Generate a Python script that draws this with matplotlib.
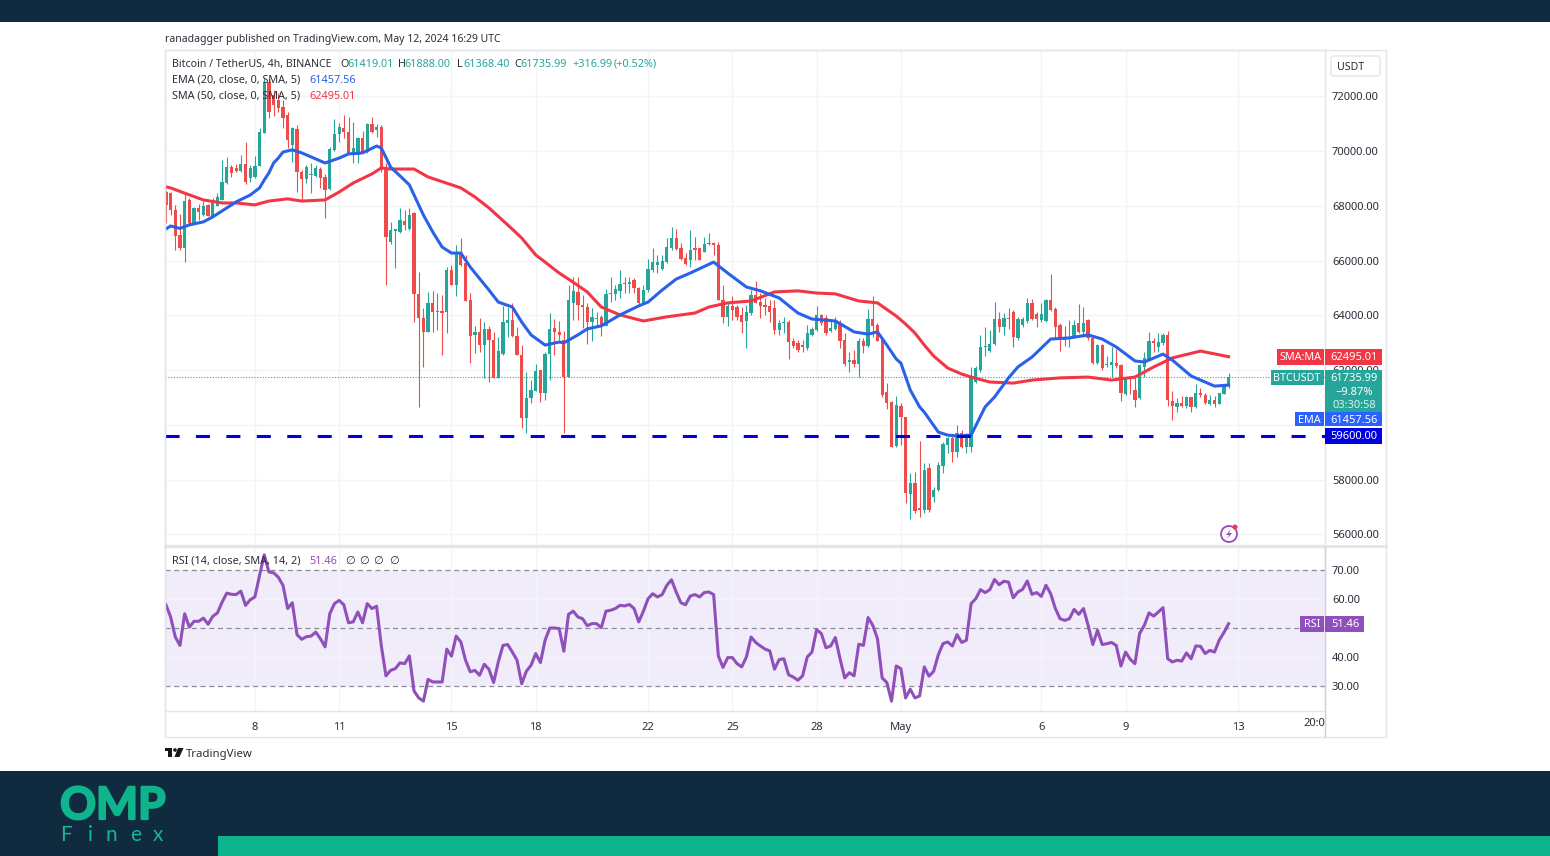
import matplotlib
matplotlib.use('Agg')
import matplotlib.pyplot as plt
import matplotlib.patheffects as pe
from matplotlib.patches import Rectangle, Circle, Polygon, FancyBboxPatch

opens = [68510,68470,67850,66940,66470,68220,67380,67930,67670,68040,67630,68000,68220,68840,69420,69390,69280,69530,69020,69060,
69460,70670,72530,72050,71870,71620,71320,70230,70810,69240,68990,69130,69100,69350,69060,68620,70050,70630,70850,70700,
69970,69860,70480,69970,71000,70780,70890,69390,66680,67090,67050,67450,67160,67740,64790,63910,63400,64460,64130,64160,
64130,65660,65110,66280,65920,64570,63290,63400,62920,63510,63100,61720,62590,63730,63840,63250,62560,60260,60990,61240,
62010,61170,62590,63540,63400,63100,61750,64460,64860,64380,64310,63760,63870,63950,63620,64790,64790,64900,65190,65150,
65300,65000,64460,64930,65660,65850,65700,65950,66470,66830,66470,66100,66030,66470,66470,66320,66610,66650,66580,64570,
63950,64350,64310,64020,63800,64090,64750,64490,64380,64350,64270,63470,63730,63760,63070,63000,62920,62810,63290,63470,
64020,63910,63430,63510,63730,63100,62300,62370,62230,63070,62890,63870,63650,63100,61210,60840,59230,60690,60290,57480,
57880,56970,56890,58430,57370,57630,58500,59270,59520,59010,59710,59200,59200,61570,62010,62850,62700,62960,63870,63580,
63910,64130,63180,63650,63800,64460,64050,63840,63800,64570,64240,63650,63210,63140,63210,63730,63400,63840,63180,62260,
62920,62190,62190,62260,62190,61130,61750,61280,60990,62120,62410,63070,62850,63000,63290,60880,60660,60800,60690,61020,
60660,61170,61100,60770,60910,60770,61130,61419]
closes = [68040,67850,66900,66470,68180,67380,67930,67780,68000,67630,68220,68330,68880,69420,69210,69280,69530,68880,69390,69460,
70700,72490,71430,71690,71580,71210,70410,70850,69240,68990,69420,69170,69390,69020,68590,70080,70630,70890,70700,69940,
70120,70480,69940,71000,70700,70890,69310,66870,67120,67160,67490,67310,67670,64790,63910,63400,64460,64130,64160,64090,
65660,65110,66280,65850,64530,63250,63400,62920,63510,63100,61720,62700,63760,63840,63250,62560,60260,60990,61280,61970,
61170,62590,63510,63400,63290,61750,64570,64900,64380,64310,63760,63950,63910,63620,64790,64820,64970,65150,65150,65220,
65000,64460,64930,65700,65950,65950,65990,66500,66830,66430,66060,65880,66390,66390,66030,66610,66650,66580,64570,63950,
64350,64200,63950,63760,64130,64750,64460,64350,64310,64130,63470,63730,63760,63030,62890,62740,62850,63360,63510,64020,
63730,63360,63540,63760,63070,62230,62370,62230,63070,62890,63870,63620,63070,61100,60800,59200,60730,60290,57520,57880,
56860,56890,58360,56890,57630,58540,59310,59520,59010,59710,59200,59520,61750,62080,62850,62890,62960,63870,63580,63910,
63870,63210,63870,63870,64460,63870,63870,64050,64570,64200,63580,63180,63100,63210,63650,63400,63730,63180,62260,62920,
62080,62230,62300,62160,61170,61750,61680,60910,62190,62450,63070,63000,63030,63290,60910,60690,60800,60690,61020,60660,
61170,61100,60800,60910,60770,61170,61420,61736]
highs = [68590,68510,68040,67710,68440,68290,67960,68070,68180,68070,68290,68470,69680,69790,69500,69530,69860,70340,69500,69830,
70850,72680,72680,72240,72130,71870,71430,70890,70960,69310,69500,69570,69500,69420,69170,70150,71180,71030,71320,71250,
71070,70520,70740,71030,71250,71000,70960,69570,67420,67160,67930,67850,67930,67780,65590,64270,64860,64900,64820,64750,
65770,65850,66580,66830,66210,64820,63620,63910,63760,63620,63400,63210,64350,64310,64460,63580,62920,61940,61640,62230,
62010,62670,64090,63870,63800,63430,65110,65410,65410,64750,64460,64270,64130,64020,64970,65410,65110,65660,65410,65410,
65370,65040,65110,66060,66470,66210,66210,66830,67230,67160,66650,66280,67120,66870,66470,66870,67010,66680,66680,65110,
64460,64710,64380,64310,64380,64930,65260,64820,64640,64570,64570,63840,63950,63840,63180,63100,63100,63650,63580,64350,
64050,64020,63840,63950,63840,63360,62670,62740,63180,63180,64240,64710,63730,63180,61530,60880,61060,60800,60290,58250,
58280,59420,58610,58610,57730,58650,59380,59560,59630,60000,59820,59710,62120,62160,63290,63580,63470,64490,64130,64090,
64270,64200,63950,63950,64640,64600,64130,64460,64600,65520,64310,63730,63620,63840,63840,64420,64310,63870,63210,62960,
62960,62520,62850,62780,62230,61750,61750,61750,62230,62670,63400,63180,63360,63360,63430,61240,60990,61060,61060,61020,
61500,61350,61170,61100,61060,61170,61460,61888]
lows = [67380,67670,66390,66390,65950,67310,67340,67490,67630,67630,67630,68000,68220,68800,69060,69240,69240,68800,68880,69020,
69460,70670,71210,71290,71430,70850,70120,69610,68510,68220,68840,68470,69060,68660,67560,68590,70010,70340,70480,69940,
69570,69570,69940,69940,70670,70520,69240,65110,66610,65740,67010,67120,67120,63760,60660,62120,63400,63400,63470,62560,
63360,65110,64710,65810,64530,62260,62630,62670,61720,61570,61720,61720,62560,63210,63210,62560,59890,59710,60800,61240,
60840,60910,61640,62560,63100,59710,61750,63840,63840,63540,62960,63070,63580,63250,63620,64490,64570,64640,64820,64820,
64820,64380,64460,64860,65590,65550,65660,65920,66390,66390,66030,65850,65770,66030,66030,66320,66580,66210,64570,63730,
63620,63840,63840,63360,62810,64020,64460,63910,64020,63760,63320,63290,63360,62410,62810,62670,62670,62740,63250,63430,
63650,63290,63400,63470,62810,62160,61940,62120,61750,62630,62850,63210,63070,61020,60580,59200,59200,59270,57150,56570,
56780,56640,56780,56820,57190,57590,58250,58980,58650,58830,59160,58980,59010,61530,61940,62520,62670,62920,63400,63290,
63510,62850,63100,63580,63730,63840,63580,63760,63760,64160,63180,62700,62890,62850,63180,63360,63210,63100,62230,62230,
62010,62120,61750,62080,60880,61100,61130,60660,60950,61750,62370,62670,62670,62920,60690,60180,60470,60660,60620,60470,
60620,61020,60770,60730,60660,60770,61130,61368]
rsi = [58.0,53.8,46.9,44.0,54.9,50.3,52.3,52.3,53.4,51.3,54.0,55.2,58.9,62.0,61.6,61.5,62.7,57.8,59.7,60.7,
68.1,75.2,69.3,69.0,67.5,64.7,56.7,58.7,47.7,46.1,47.0,47.2,48.6,46.3,43.5,54.9,58.4,59.5,58.0,51.8,
52.1,55.5,51.8,58.4,56.7,57.5,44.0,33.5,35.4,36.0,38.0,37.7,40.4,28.3,25.9,24.8,32.3,31.4,31.4,31.4,
42.7,40.3,47.2,45.2,38.9,34.9,35.4,33.7,37.5,35.8,31.2,38.3,44.0,44.3,41.7,38.9,30.8,35.1,37.2,41.2,
38.1,45.8,50.0,50.0,49.8,42.0,54.7,55.8,53.8,53.2,50.8,51.5,51.5,50.1,55.8,56.1,56.7,57.8,57.6,58.1,
56.7,52.1,55.8,60.1,61.8,60.7,61.5,64.7,66.6,62.4,58.7,58.0,61.0,61.5,60.7,62.2,62.4,61.5,40.4,36.4,
39.8,39.8,37.7,36.6,40.0,46.9,45.0,43.8,42.7,42.1,35.8,39.1,39.4,33.9,33.1,32.0,33.5,40.0,41.7,49.4,
48.1,43.2,43.8,46.7,39.4,32.8,34.6,33.5,44.4,44.0,53.6,50.9,46.3,32.8,31.2,24.8,36.9,36.0,25.9,28.9,
25.9,26.6,36.6,33.4,35.1,40.8,44.6,45.2,43.8,47.7,45.0,45.8,58.4,60.1,63.2,62.2,63.2,66.7,64.9,66.1,
65.8,60.4,62.4,63.3,66.2,61.6,62.2,60.9,64.7,61.8,56.7,53.2,52.6,53.2,56.4,54.7,56.7,50.9,44.3,49.2,
44.3,44.6,45.0,44.0,36.9,41.7,39.2,37.7,48.1,50.9,55.2,54.1,55.5,57.0,39.4,38.3,38.9,38.6,41.4,39.4,
43.8,43.7,41.2,42.3,41.7,45.8,48.4,51.46]
# candle number, 0 = Apr 8 00:00, six 4h candles a day
ema_x = [-19,-18,-16,-14,-11,-9,-6,-4,-1,1,2,3,4,5,6,7,8,10,13,15,18,20,23,26,27,29,31,33,36,38,40,42,44,46,50,52,55,57,59,62,65,66,69,71,74,
78,82,84,87,90,93,98,101,105,108,112,116,119,124,128,131,133,135,137,138,140,142,143,146,148,150,153,156,158,161,163,166,170,174,178,181,184,188,190,194,196,200,205,208]
ema = [67160,67270,67180,67310,67420,67600,67930,68150,68400,68660,68950,69210,69570,69750,69970,70010,70050,69940,69720,69570,69750,69900,69940,
70190,70120,69420,69100,68770,67670,67050,66500,66280,66280,65770,64930,64490,64310,63760,63290,62920,63030,63000,63290,63510,63620,
64020,64350,64490,64930,65330,65550,65950,65550,65040,64900,64640,64090,63870,63800,63400,63320,63400,62920,62410,62260,61280,60660,
60470,59740,59630,59600,59630,60660,61020,61720,62120,62480,63140,63180,63290,63140,62850,62340,62300,62590,62370,61790,61420,61457.56]
sma_x = [-19,-18,-15,-11,-7,-4,0,3,7,10,15,18,21,25,27,29,34,37,44,47,50,54,57,60,62,65,67,71,74,78,83,88,94,97,101,106,111,116,120,124,129,133,
137,139,141,143,145,148,151,153,157,162,166,172,178,183,188,192,196,202,208]
sma = [68700,68660,68470,68220,68110,68110,68040,68180,68260,68180,68220,68510,68840,69170,69390,69350,69350,69060,68660,68330,
67930,67310,66830,66210,65950,65550,65330,64860,64310,64020,63800,63950,64090,64310,64460,64530,64860,64900,64820,64790,64530,64460,
63980,63690,63360,62920,62520,62080,61860,61750,61570,61530,61640,61720,61750,61640,61750,62120,62450,62700,62495.01]
price_ticks = [56000,58000,60000,62000,64000,66000,68000,70000,72000]
price_hidden = [60000]  # sits under the EMA and 59600 tags in the reference
rsi_ticks = [30,40,60,70]
rsi_levels = [30,50,70]
day_ticks = [0,18,42,60,84,102,120,138,168,186,210]
day_labels = ['8','11','15','18','22','25','28','May','6','9','13']
support = 59600
last_price = 61735.99
last_ema = 61457.56
last_sma = 62495.01
last_rsi = 51.46

GREEN = '#26A69A'
RED = '#EF4B4B'
BLUE = '#2962E8'
PURPLE = '#9050BC'
DARK = '#102A3F'
TEAL = '#10B48C'
GRID = '#F4F4F6'
EDGE = '#E4E5E9'
INK = '#2A2E39'

plt.rcParams['font.family'] = ['Noto Sans', 'DejaVu Sans']
W, H = 1550, 856
fig = plt.figure(figsize=(15.5, 8.56), dpi=100, facecolor='white')

def axes_px(x0, y0, x1, y1):
    return fig.add_axes([x0 / W, 1 - y1 / H, (x1 - x0) / W, (y1 - y0) / H])

xlim = (-19.2, 228.6)
ax = axes_px(165, 50, 1325, 545)
ax.set_xlim(*xlim)
ax.set_ylim(55616, 73698)
ax_rsi = axes_px(165, 547, 1325, 711)
ax_rsi.set_xlim(*xlim)
ax_rsi.set_ylim(21.4, 77.9)

for a in (ax, ax_rsi):
    a.set_xticks(day_ticks)
    a.grid(True, color=GRID, lw=1)
    a.set_axisbelow(True)
    a.yaxis.tick_right()
    a.tick_params(length=0, labelsize=8, labelcolor=INK, pad=5)
    for s in a.spines.values():
        s.set_color(EDGE)
        s.set_linewidth(1)

# candles
xs = list(range(-19, -19 + len(closes)))
colors = [GREEN if c >= o else RED for o, c in zip(opens, closes)]
ax.vlines(xs, lows, highs, colors=colors, lw=0.8, zorder=2)
ax.bar(xs, [abs(c - o) for o, c in zip(opens, closes)], bottom=[min(o, c) for o, c in zip(opens, closes)],
       width=0.7, color=colors, linewidth=0, zorder=3)
ax.plot(sma_x, sma, color='#F23645', lw=2.2, zorder=4, solid_joinstyle='round')
ax.plot(ema_x, ema, color=BLUE, lw=2.2, zorder=5, solid_joinstyle='round')
ax.axhline(last_price, color=GREEN, lw=0.8, ls=(0, (1, 1.5)), zorder=1)
ax.axhline(support, color='#0000E0', lw=2.2, ls=(0, (4.6, 5.36)), zorder=6)
ax.set_xticklabels([])
ax.set_yticks(price_ticks)
ax.set_yticklabels(['' if t in price_hidden else f'{t:.2f}' for t in price_ticks])

# rsi pane
ax_rsi.axhspan(rsi_levels[0], rsi_levels[2], color='#F1ECF9', lw=0, zorder=0)
for lv in rsi_levels:
    ax_rsi.axhline(lv, color='#8A8D96', lw=0.9, ls=(0, (4, 3)), zorder=1)
ax_rsi.plot(xs, rsi, color=PURPLE, lw=2.2, zorder=3, solid_joinstyle='round')
ax_rsi.set_yticks(rsi_ticks)
ax_rsi.set_yticklabels([f'{t:.2f}' for t in rsi_ticks])
ax_rsi.set_xticklabels(day_labels)
ax_rsi.tick_params(axis='x', pad=8)

# everything else is placed in picture pixels on a transparent layer
ov = fig.add_axes([0, 0, 1, 1], facecolor='none', zorder=10)
ov.set_xlim(0, W)
ov.set_ylim(H, 0)
ov.axis('off')

def t(x, y, s, color=INK, size=8, ha='left', **kw):
    ov.text(x, y, s, color=color, fontsize=size, ha=ha, va='center', **kw)

def box(x0, y0, x1, y1, color, z=1):
    ov.add_patch(Rectangle((x0, y0), x1 - x0, y1 - y0, color=color, lw=0, zorder=z))

def price_px(a, v):
    return H - a.transData.transform((0, v))[1]

# page bands and panel frame
box(0, 0, W, 22, DARK)
box(0, 771, W, H, DARK)
box(218, 836, W, H, TEAL, z=2)
ov.add_patch(Rectangle((165, 50), 1221, 687, fill=False, ec=EDGE, lw=1))
ov.plot([165, 1386], [546, 546], color=EDGE, lw=2)
ov.plot([1325, 1325], [547, 737], color='#CFD1D7', lw=1)
ov.add_patch(FancyBboxPatch((1331, 56), 49, 20, boxstyle='round,pad=0,rounding_size=3', fc='white', ec=EDGE, lw=1))
t(1337, 67, 'USDT', size=7.6)
t(1314, 724, '20:0', ha='center')

# header text
t(165, 39, 'ranadagger published on TradingView.com, May 12, 2024 16:29 UTC', size=7.5)
t(172, 64, 'Bitcoin / TetherUS, 4h, BINANCE', size=7.6)
for x, s in zip([340, 398, 457, 514], ['O', 'H', 'L', 'C']):
    t(x, 64, s, size=7.8)
for x, s in zip([347, 404, 463, 520, 572, 614], ['61419.01', '61888.00', '61368.40', '61735.99', '+316.99', '(+0.52%)']):
    t(x, 64, s, color=GREEN, size=7.8)
t(172, 80, 'EMA (20, close, 0, SMA, 5)', size=7.8)
t(309, 80, f'{last_ema:.2f}', color=BLUE, size=7.8)
t(172, 96, 'SMA (50, close, 0, SMA, 5)', size=7.8)
t(309, 96, f'{last_sma:.2f}', color='#F23645', size=7.8)
t(172, 561, 'RSI (14, close, SMA, 14, 2)', size=7.8)
t(309, 561, f'{last_rsi:.2f}', color=PURPLE, size=7.8)
for x in [345, 359, 373, 389]:
    t(x, 561, '∅')

# right side price labels
y_sma = price_px(ax, last_sma)
box(1277, y_sma - 8, 1324, y_sma + 8, '#F23645', z=3)
box(1325, y_sma - 8, 1382, y_sma + 8, '#F23645', z=3)
t(1300, y_sma + 1, 'SMA:MA', color='white', ha='center', size=7.8, zorder=5)
t(1354, y_sma + 1, f'{last_sma:.2f}', color='white', ha='center', zorder=5)

y_last = price_px(ax, last_price)
box(1271, y_last - 7, 1324, y_last + 8, GREEN, z=3)
box(1325, y_last - 7, 1382, y_last + 35, GREEN, z=3)
t(1297, y_last + 1, 'BTCUSDT', color='white', ha='center', size=7.8, zorder=5)
t(1354, y_last + 1, f'{last_price:.2f}', color='white', ha='center', zorder=5)
t(1354, y_last + 15, '−9.87%', color='white', ha='center', zorder=5)
t(1354, y_last + 28, '03:30:58', color='#D8EFEC', ha='center', zorder=5)

y_ema = price_px(ax, last_ema)
box(1295, y_ema + 27, 1324, y_ema + 41, '#2962FF', z=3)
box(1325, y_ema + 27, 1382, y_ema + 41, '#2962FF', z=3)
t(1309, y_ema + 35, 'EMA', color='white', ha='center', size=7.8, zorder=5)
t(1354, y_ema + 35, f'{last_ema:.2f}', color='white', ha='center', zorder=5)

y_sup = price_px(ax, support)
box(1325, y_sup - 8, 1382, y_sup + 8, '#0000E0', z=4)
t(1354, y_sup + 1, f'{support:.2f}', color='white', ha='center', zorder=5)

y_rsi = price_px(ax_rsi, last_rsi)
box(1300, y_rsi - 8, 1324, y_rsi + 8, PURPLE, z=3)
box(1325, y_rsi - 8, 1364, y_rsi + 8, PURPLE, z=3)
t(1312, y_rsi + 1, 'RSI', color='white', ha='center', size=7.8, zorder=5)
t(1345, y_rsi + 1, f'{last_rsi:.2f}', color='white', ha='center', zorder=5)

# power icon
ov.add_patch(Circle((1229, 534), 8, fill=False, ec=PURPLE, lw=1.3))
ov.add_patch(Polygon([(1231, 529), (1226, 535), (1229, 535), (1227, 539), (1232, 533), (1229, 533)], color=PURPLE, lw=0))
ov.add_patch(Circle((1235, 527), 2.5, color='#F23645', lw=0))

# tradingview mark
box(165, 748, 172, 751, '#131722')
box(168, 748, 172, 757, '#131722')
ov.add_patch(Circle((175, 750), 1.8, color='#131722', lw=0))
ov.add_patch(Polygon([(178, 748), (183.5, 748), (179.5, 757), (174.5, 757)], color='#131722', lw=0))
t(186, 754, 'TradingView', size=8.2)

# company logo
logo = ov.text(113, 806, 'OMP', color=TEAL, fontsize=32, ha='center', va='center', family='Lato', weight='bold')
logo.set_path_effects([pe.withStroke(linewidth=1.6, foreground=TEAL)])
for x, s in zip([66, 90, 111, 136, 158], 'Finex'):
    t(x, 835, s, color='#16B894', size=15, ha='center', family='Lato')

plt.savefig('out.png', dpi=100)
